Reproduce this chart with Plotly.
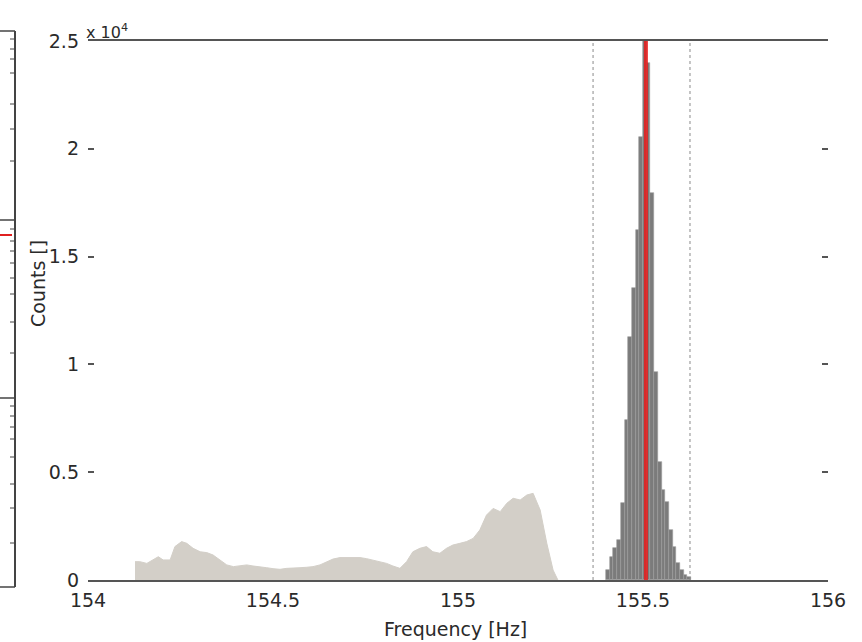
import plotly.graph_objects as go

# ---------------- data ----------------
# broad background distribution (light)
bg_freq = [154.127, 154.14, 154.159, 154.176, 154.19, 154.203, 154.222, 154.235, 154.253,
           154.267, 154.284, 154.303, 154.321, 154.338, 154.357, 154.375, 154.393, 154.41,
           154.429, 154.446, 154.465, 154.483, 154.5, 154.519, 154.537, 154.554, 154.573,
           154.591, 154.608, 154.627, 154.645, 154.662, 154.681, 154.699, 154.716, 154.735,
           154.753, 154.77, 154.789, 154.807, 154.824, 154.843, 154.861, 154.878, 154.897,
           154.915, 154.932, 154.951, 154.969, 154.986, 155.005, 155.023, 155.041, 155.059,
           155.077, 155.095, 155.114, 155.132, 155.149, 155.168, 155.186, 155.203, 155.222,
           155.24, 155.257, 155.27]
bg_counts = [850, 850, 770, 930, 1080, 930, 930, 1550, 1780,
             1700, 1470, 1310, 1270, 1160, 930, 700, 620, 650,
             700, 650, 620, 570, 525, 495, 540, 570, 570,
             590, 620, 700, 850, 970, 1040, 1050, 1050, 1040,
             990, 930, 850, 770, 650, 540, 850, 1310, 1470,
             1550, 1310, 1240, 1470, 1620, 1700, 1780, 1930, 2320,
             3010, 3320, 3170, 3560, 3790, 3710, 3940, 4020, 3250,
             1700, 460, 0]

# narrow peak histogram (dark)
peak_freq = [155.405, 155.415, 155.425, 155.435, 155.445, 155.455, 155.465, 155.475,
             155.485, 155.495, 155.505, 155.515, 155.525, 155.535, 155.545, 155.555,
             155.565, 155.575, 155.585, 155.595, 155.605, 155.615, 155.625]
peak_counts = [460, 1070, 1480, 1860, 3570, 7420, 11270, 13540,
               16230, 20550, 25300, 23980, 17950, 9650, 5470, 4170,
               3620, 2320, 1530, 790, 460, 230, 150]
peak_bin_width = 0.01

center_freq = 155.508
window_bounds = [155.365, 155.627]

x_ticks = [154, 154.5, 155, 155.5, 156]
x_tick_labels = ["154", "154.5", "155", "155.5", "156"]
y_ticks = [0, 5000, 10000, 15000, 20000, 25000]
y_tick_labels = ["0", "0.5", "1", "1.5", "2", "2.5"]
y_max = 25000

FONT = "DejaVu Sans"
TXT = "#2a2a2a"

fig = go.Figure()

fig.add_trace(go.Scatter(
    x=bg_freq, y=bg_counts, mode="lines", line_shape="linear",
    line=dict(color="#d3cfc8", width=1), fill="tozeroy", fillcolor="#d3cfc8",
    showlegend=False, hoverinfo="skip"))

for xb in window_bounds:
    fig.add_trace(go.Scatter(
        x=[xb, xb], y=[0, y_max], mode="lines",
        line=dict(color="#8a8a8a", width=1, dash="dot"),
        showlegend=False, hoverinfo="skip"))

fig.add_trace(go.Bar(
    x=peak_freq, y=peak_counts, width=peak_bin_width,
    marker=dict(color="#7b7b7b", line=dict(color="#9c9c9c", width=0.6)),
    showlegend=False))

fig.add_trace(go.Scatter(
    x=[center_freq, center_freq], y=[0, y_max], mode="lines",
    line=dict(color="rgba(235,25,25,0.82)", width=4),
    showlegend=False, hoverinfo="skip"))

# ------------- layout -------------
W, H = 862, 642
L, R, T, B = 88, 34, 41, 62
pw, ph = W - L - R, H - T - B

def px_x(p):
    return (p - L) / pw

def px_y(p):
    return (H - B - p) / ph

shapes = []
# edge of the neighbouring panel on the far left
edge_col = "#444444"
shapes.append(dict(type="line", xref="paper", yref="paper",
                   x0=px_x(15), x1=px_x(15), y0=px_y(31), y1=px_y(587),
                   line=dict(color=edge_col, width=2)))
for yy in [31, 587, 220, 398]:
    shapes.append(dict(type="line", xref="paper", yref="paper",
                       x0=px_x(0), x1=px_x(15), y0=px_y(yy), y1=px_y(yy),
                       line=dict(color=edge_col, width=1.5)))
shapes.append(dict(type="line", xref="paper", yref="paper",
                   x0=px_x(0), x1=px_x(12), y0=px_y(235), y1=px_y(235),
                   line=dict(color="#e02020", width=2)))
for yy in [39, 49, 59, 73, 104, 129, 161, 229, 241, 251, 263, 278, 294, 322, 353,
           406, 416, 427, 439, 457, 484, 508, 543]:
    shapes.append(dict(type="line", xref="paper", yref="paper",
                       x0=px_x(10), x1=px_x(15), y0=px_y(yy), y1=px_y(yy),
                       line=dict(color=edge_col, width=1)))

fig.update_layout(
    width=W, height=H,
    margin=dict(l=L, r=R, t=T, b=B, autoexpand=False),
    paper_bgcolor="white", plot_bgcolor="white",
    bargap=0,
    font=dict(family=FONT, size=19, color=TXT),
    shapes=shapes,
    xaxis=dict(range=[154, 156], tickvals=x_ticks, ticktext=x_tick_labels,
               showgrid=False, zeroline=False, showline=True, mirror=True,
               linecolor="#555555", linewidth=2, ticks="", ticklabelstandoff=2,
               tickfont=dict(family=FONT, size=19, color=TXT)),
    yaxis=dict(range=[0, y_max], tickvals=y_ticks, ticktext=y_tick_labels,
               showgrid=False, zeroline=False, showline=False,
               ticks="inside", ticklen=6, tickwidth=1.5, tickcolor="#555555",
               mirror="ticks", ticklabelstandoff=8,
               tickfont=dict(family=FONT, size=19, color=TXT)),
    annotations=[
        dict(text="Frequency [Hz]", xref="paper", yref="paper", x=0.497, y=0,
             xanchor="center", yanchor="top", yshift=-36, showarrow=False,
             font=dict(family=FONT, size=19, color=TXT)),
        dict(text="Counts []", xref="paper", yref="paper", x=0, y=px_y(284),
             xanchor="center", yanchor="middle", xshift=-50, textangle=-90,
             showarrow=False, font=dict(family=FONT, size=19, color=TXT)),
        dict(text="x 10<sup>4</sup>", xref="paper", yref="paper", x=0, y=1,
             xanchor="left", yanchor="bottom", xshift=-4, yshift=-3, showarrow=False,
             font=dict(family=FONT, size=16, color=TXT)),
    ],
)

fig.write_html("out.html")
